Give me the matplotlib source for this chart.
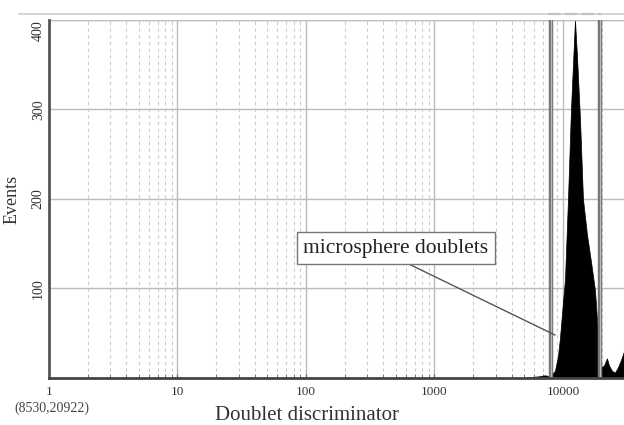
import matplotlib.pyplot as plt
import numpy as np
from matplotlib.ticker import FixedLocator, NullFormatter, LogLocator

plt.rcParams['font.family'] = ['Liberation Serif', 'DejaVu Serif']

# histogram (channel value, events)
channel = [5000, 5535, 6620, 7230, 7925, 8665, 9150, 9480, 10000, 10370, 10940,
           11540, 11960, 12400, 12850, 13560, 14310, 15380, 16520, 17740, 18720,
           19770, 20850, 21990, 22810, 24060, 25390, 26800, 28270, 29840, 32000]
events = [0, 1, 2, 3, 2, 8, 25, 45, 85, 110, 200,
          300, 350, 400, 360, 290, 200, 160, 130, 98, 50,
          12, 14, 22, 14, 8, 6, 12, 20, 30, 40]

gates = [8100, 19500]
x_ticks = [1, 10, 100, 1000, 10000]
y_ticks = [100, 200, 300, 400]

fig = plt.figure(figsize=(6.24, 4.25), dpi=100)
ax = fig.add_axes([0.0785, 0.1106, 0.9215, 0.8424])

ax.set_xscale('log')
ax.set_xlim(1, 29850)
ax.set_ylim(0, 400)

ax.xaxis.set_major_locator(FixedLocator(x_ticks))
ax.xaxis.set_minor_locator(LogLocator(base=10, subs=np.arange(2, 10)))
ax.xaxis.set_minor_formatter(NullFormatter())
ax.set_xticklabels([str(t) for t in x_ticks], fontsize=9.5, color='#333333')
ax.set_yticks(y_ticks)
ax.set_yticklabels([str(t) for t in y_ticks], rotation=90, fontsize=10,
                   color='#333333', va='center')
ax.get_yticklabels()[-1].set_va('top')

ax.grid(True, which='major', color='#bbbbbb', linewidth=1.0, linestyle='-')
ax.grid(True, which='minor', axis='x', color='#cccccc', linewidth=0.8,
        linestyle=(0, (3, 3)))
ax.set_axisbelow(True)
ax.tick_params(which='both', direction='in', length=3, color='#666666')
ax.tick_params(axis='y', length=0, pad=3)
ax.tick_params(axis='x', which='major', pad=6)

for side in ['top', 'right']:
    ax.spines[side].set_visible(False)
ax.spines['left'].set_color('#555555')
ax.spines['left'].set_linewidth(2)
ax.spines['bottom'].set_color('#444444')
ax.spines['bottom'].set_linewidth(2)
ax.axhline(400, color='#bbbbbb', linewidth=1)

ax.fill_between(channel, events, color='black', linewidth=0.5)

for g in gates:
    ax.axvline(g, color='#777777', linewidth=3.2)
    ax.axvline(g, color='#bbbbbb', linewidth=0.8)

# line above the plot area and the gate marker
fig.add_artist(plt.Line2D([0.03, 1.0], [0.968, 0.968], color='#cccccc', linewidth=1.2,
                          transform=fig.transFigure))
ax.plot([gates[0] * 0.95, gates[1] * 1.02], [407, 407], color='#888888', linewidth=1.5,
        linestyle=(0, (6, 2)), clip_on=False)

ax.annotate('microsphere doublets', xy=(8670, 48), xytext=(500, 145),
            fontsize=15.5, ha='center', va='center', color='#222222',
            bbox=dict(boxstyle='square,pad=0.3', fc='white', ec='#777777', lw=1),
            arrowprops=dict(arrowstyle='-', color='#555555', lw=1,
                            shrinkA=0, shrinkB=0, relpos=(0.5, 0)))

ax.set_xlabel('Doublet discriminator', fontsize=15, color='#333333', labelpad=4)
ax.xaxis.set_label_coords(0.448, -0.078)
ax.set_ylabel('Events', fontsize=13, color='#333333', labelpad=8)
fig.text(0.023, 0.03, '(8530,20922)', fontsize=10, color='#444444')

plt.savefig('out.png', dpi=100)
